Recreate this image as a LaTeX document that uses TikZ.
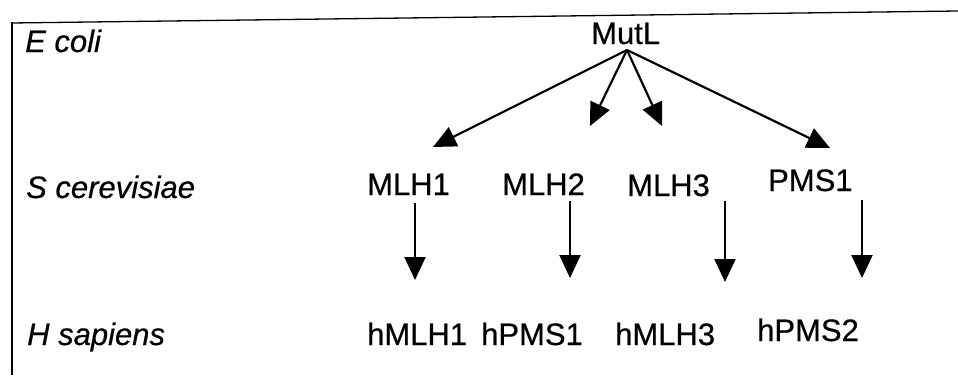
\documentclass[tikz,border=0pt]{standalone}
\usepackage{fontspec}
\setmainfont{Liberation Sans}[FakeBold=0.5]
\usetikzlibrary{arrows.meta}
\begin{document}
\begin{tikzpicture}[x=1pt,y=-1pt,
  label/.style={inner sep=0pt,anchor=base west,font=\fontsize{31}{37}\selectfont},
  species/.style={label,font=\fontsize{31}{37}\selectfont\itshape},
  frameline/.style={line width=1.3pt},
  link/.style={line width=2.2pt,-{Triangle[length=23pt,width=21pt]}}]
  \useasboundingbox[fill=white] (0,0) rectangle (958,375);
  % frame
  \coordinate (fl) at (11,23);
  \coordinate (fr) at (958,11);
  \coordinate (fb) at (12,375);
  \draw[frameline] (fl) -- (fr);
  \draw[frameline] (12,22) -- (fb);
  % organisms
  \node[species] (eco) at (25,52) {E coli};
  \node[species] (sce) at (26,198) {S cerevisiae};
  \node[species] (hsa) at (27,345) {H sapiens};
  % proteins
  \node[label] (mutl) at (591,44) {MutL};
  \node[label] (mlh1) at (367,195) {MLH1};
  \node[label] (mlh2) at (502,195) {MLH2};
  \node[label] (mlh3) at (627,196) {MLH3};
  \node[label] (pms1) at (768,191) {PMS1};
  \node[label] (hmlh1) at (367,345) {hMLH1};
  \node[label] (hpms1) at (481,345) {hPMS1};
  \node[label] (hmlh3) at (615,345) {hMLH3};
  \node[label] (hpms2) at (757,341) {hPMS2};
  % arrow ends
  \coordinate (hub) at (627,50);
  \coordinate (t1) at (433,147);
  \coordinate (t2) at (590,126);
  \coordinate (t3) at (662,126);
  \coordinate (t4) at (830,148);
  \coordinate (s1) at (415,203);
  \coordinate (e1) at (415,280);
  \coordinate (s2) at (570,201);
  \coordinate (e2) at (570,278);
  \coordinate (s3) at (725,201);
  \coordinate (e3) at (725,282);
  \coordinate (s4) at (862,200);
  \coordinate (e4) at (862,278);
  % MutL homologues
  \draw[link] (hub) -- (t1);
  \draw[link] (hub) -- (t2);
  \draw[link] (hub) -- (t3);
  \draw[link] (hub) -- (t4);
  % yeast to human
  \draw[link] (s1) -- (e1);
  \draw[link] (s2) -- (e2);
  \draw[link] (s3) -- (e3);
  \draw[link] (s4) -- (e4);
\end{tikzpicture}
\end{document}
